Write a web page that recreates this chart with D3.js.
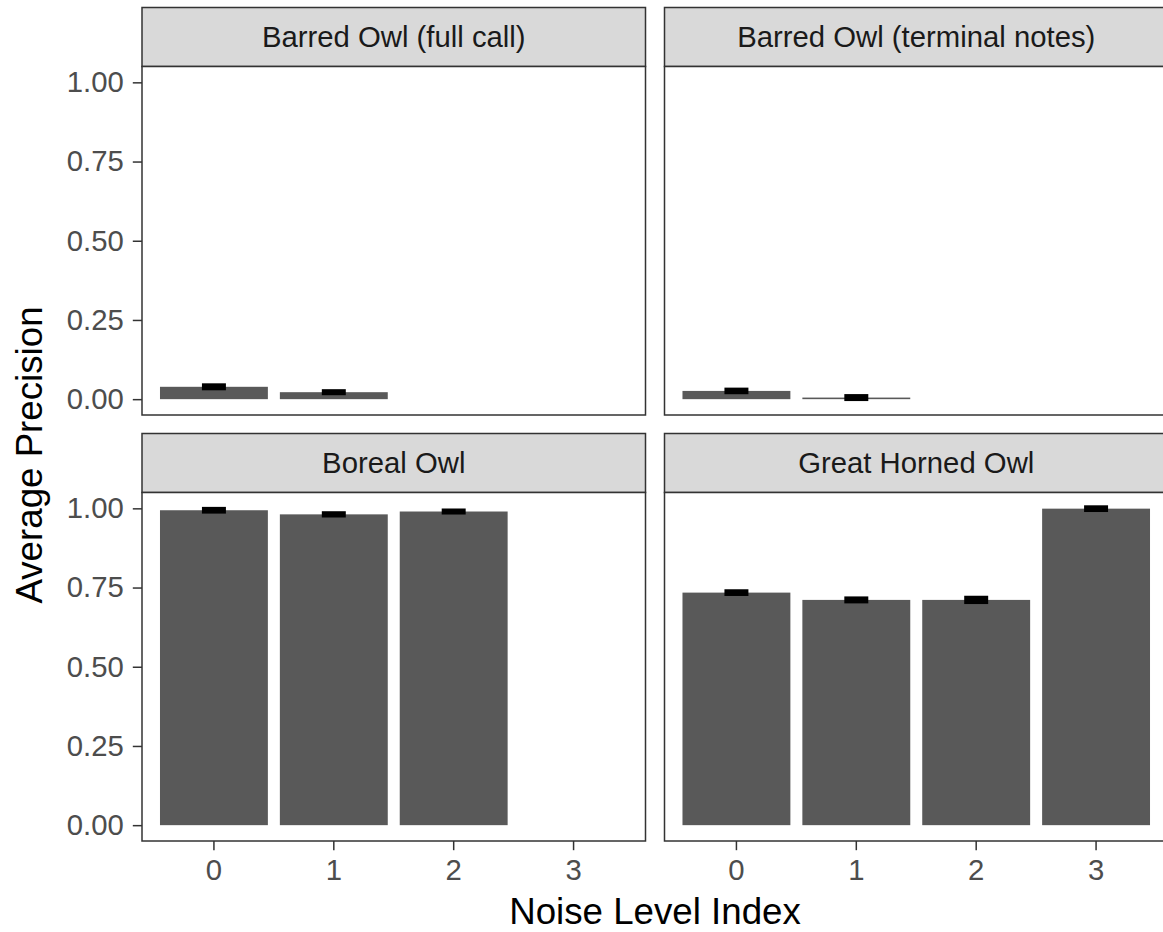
<!DOCTYPE html>
<html>
<head>
<meta charset="utf-8">
<script src="https://cdn.jsdelivr.net/npm/d3@7"></script>
<style>
  html, body { margin: 0; padding: 0; background: #fff; }
  svg { display: block; font-family: "Liberation Sans", Arial, sans-serif; }
</style>
</head>
<body>
<div id="chart"></div>
<script>
const species = ['Barred Owl (full call)', 'Barred Owl (terminal notes)', 'Boreal Owl', 'Great Horned Owl'];
const noiseLevels = ['0', '1', '2', '3'];
const yTicks = [0, 0.25, 0.5, 0.75, 1];

// mean average precision per noise level (null = no bar)
const meanBarredFull = [0.039, 0.022, null, null];
const meanBarredTerminal = [0.026, 0.005, null, null];
const meanBoreal = [0.994, 0.981, 0.990, null];
const meanGreatHorned = [0.734, 0.711, 0.711, 0.999];

// standard errors
const seBarredFull = [0.0047, 0.0032, null, null];
const seBarredTerminal = [0.0041, 0.0047, null, null];
const seBoreal = [0.0043, 0.0036, 0.0032, null];
const seGreatHorned = [0.0043, 0.0047, 0.0068, 0.0043];

const means = [meanBarredFull, meanBarredTerminal, meanBoreal, meanGreatHorned];
const ses = [seBarredFull, seBarredTerminal, seBoreal, seGreatHorned];

const width = 1163, height = 932;
const panelW = 503.5, panelH = 348.5, stripH = 59;
const colX = [142, 664.5];
const rowY = [7.5, 433.5];
const tickFont = 29.3, titleFont = 36.7;

const svg = d3.select('#chart').append('svg').attr('width', width).attr('height', height);

const x = d3.scaleBand().domain(noiseLevels).range([0, panelW]).paddingInner(0.1).paddingOuter(0.15);
const y = d3.scaleLinear().domain([-0.05, 1.05]).range([panelH, 0]);

species.forEach((name, i) => {
  const col = i % 2, row = Math.floor(i / 2);
  const g = svg.append('g').attr('transform', `translate(${colX[col]},${rowY[row]})`);

  // strip
  g.append('rect').attr('x', 0).attr('y', 0).attr('width', panelW).attr('height', stripH)
    .attr('fill', '#d9d9d9').attr('stroke', '#333').attr('stroke-width', 1.5);
  g.append('text').attr('x', panelW / 2).attr('y', stripH / 2).attr('dy', '0.35em')
    .attr('text-anchor', 'middle').attr('font-size', tickFont).attr('fill', '#1a1a1a').text(name);

  const p = g.append('g').attr('transform', `translate(0,${stripH})`);
  p.append('rect').attr('width', panelW).attr('height', panelH).attr('fill', '#fff');

  const rows = noiseLevels.map((lvl, j) => ({ lvl, m: means[i][j], se: ses[i][j] })).filter((d) => d.m !== null);

  p.selectAll('rect.bar').data(rows).join('rect').attr('class', 'bar')
    .attr('x', (d) => x(d.lvl)).attr('width', x.bandwidth())
    .attr('y', (d) => y(d.m)).attr('height', (d) => Math.max(1, y(0) - y(d.m)))
    .attr('fill', '#595959');

  // error bars: thick caps overlap into a solid block
  const ew = x.step() * 0.2, lw = 4;
  p.selectAll('rect.err').data(rows).join('rect').attr('class', 'err')
    .attr('x', (d) => x(d.lvl) + x.bandwidth() / 2 - ew / 2).attr('width', ew)
    .attr('y', (d) => y(d.m + d.se) - lw / 2)
    .attr('height', (d) => y(d.m - d.se) - y(d.m + d.se) + lw)
    .attr('fill', '#000');

  p.append('rect').attr('width', panelW).attr('height', panelH)
    .attr('fill', 'none').attr('stroke', '#333').attr('stroke-width', 1.5);

  if (col === 0) {
    const ax = p.append('g').call(d3.axisLeft(y).tickValues(yTicks).tickFormat(d3.format('.2f')).tickSize(9.2).tickPadding(9));
    ax.select('.domain').remove();
    ax.selectAll('line').attr('stroke', '#333').attr('stroke-width', 1.5);
    ax.selectAll('text').attr('font-size', tickFont).attr('fill', '#4d4d4d').attr('font-family', 'Liberation Sans, Arial, sans-serif');
  }
  if (row === 1) {
    const ax = p.append('g').attr('transform', `translate(0,${panelH})`)
      .call(d3.axisBottom(x).tickSize(9.2).tickPadding(9));
    ax.select('.domain').remove();
    ax.selectAll('line').attr('stroke', '#333').attr('stroke-width', 1.5);
    ax.selectAll('text').attr('font-size', tickFont).attr('fill', '#4d4d4d').attr('font-family', 'Liberation Sans, Arial, sans-serif');
  }
});

svg.append('text').attr('x', colX[0] + (colX[1] + panelW - colX[0]) / 2).attr('y', 924)
  .attr('text-anchor', 'middle').attr('font-size', titleFont).attr('fill', '#000').text('Noise Level Index');

svg.append('text').attr('transform', 'translate(42,455) rotate(-90)')
  .attr('text-anchor', 'middle').attr('font-size', titleFont).attr('fill', '#000').text('Average Precision');
</script>
</body>
</html>
